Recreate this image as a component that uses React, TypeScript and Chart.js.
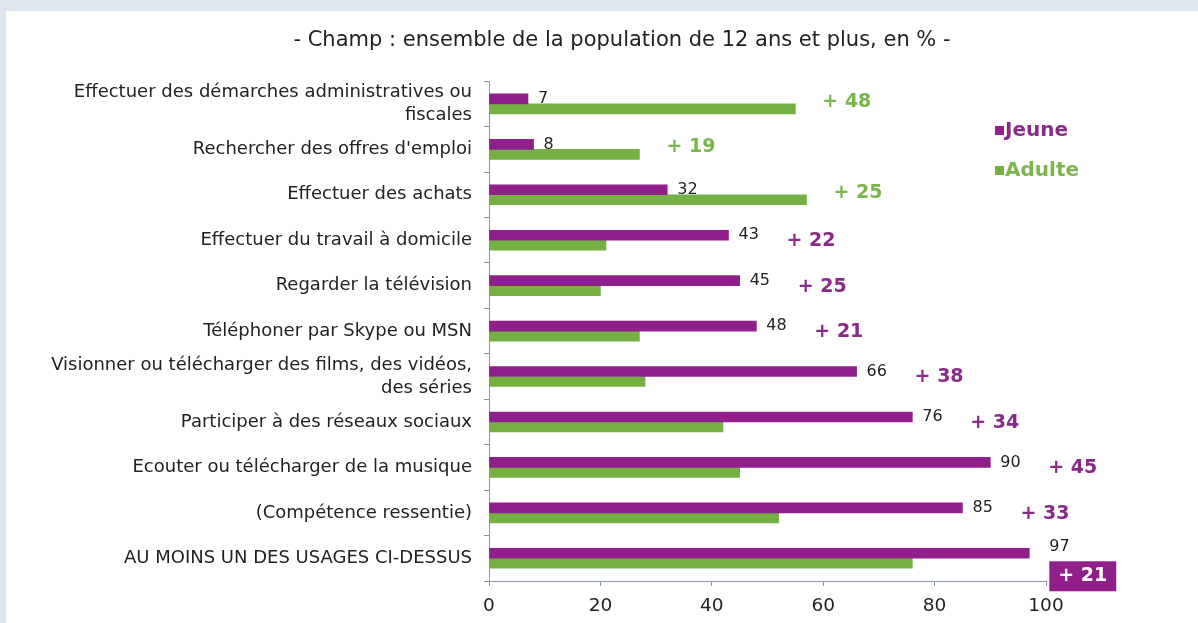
import React, { useEffect, useRef } from "react";
import { Chart, registerables } from "chart.js";

Chart.register(...registerables);

const title = "- Champ : ensemble de la population de 12 ans et plus, en % -";

const categories: (string | string[])[] = [
  ["Effectuer des démarches administratives ou", "fiscales"],
  "Rechercher des offres d'emploi",
  "Effectuer des achats",
  "Effectuer du travail à domicile",
  "Regarder la télévision",
  "Téléphoner par Skype ou MSN",
  ["Visionner ou télécharger des films, des vidéos,", "des séries"],
  "Participer à des réseaux sociaux",
  "Ecouter ou télécharger de la musique",
  "(Compétence ressentie)",
  "AU MOINS UN DES USAGES CI-DESSUS",
];

const jeune = [7, 8, 32, 43, 45, 48, 66, 76, 90, 85, 97];
const adulte = [55, 27, 57, 21, 20, 27, 28, 42, 45, 52, 76];

const xTicks = [0, 20, 40, 60, 80, 100];

const PURPLE = "#901f8c";
const GREEN = "#75b043";
const PURPLE_TXT = "#8a2a88";
const GREEN_TXT = "#7ab54f";
const FONT = "'DejaVu Sans', Verdana, sans-serif";

export default function App() {
  const ref = useRef<HTMLCanvasElement | null>(null);

  useEffect(() => {
    document.body.style.margin = "0";
    const canvas = ref.current;
    if (!canvas) return;

    const annotations = {
      id: "annotations",
      afterLayout(chart: any) {
        const tb = chart.titleBlock;
        if (tb) {
          tb.left = 40;
          tb.right = chart.width;
          tb.width = tb.right - tb.left;
        }
      },
      afterDatasetsDraw(chart: any) {
        const ctx = chart.ctx as CanvasRenderingContext2D;
        const xs = chart.scales.x;
        const metaJ = chart.getDatasetMeta(0);
        const metaA = chart.getDatasetMeta(1);
        ctx.save();
        for (let i = 0; i < jeune.length; i++) {
          const barJ = metaJ.data[i];
          const barA = metaA.data[i];
          const isLast = i === jeune.length - 1;
          ctx.font = `16px ${FONT}`;
          ctx.fillStyle = "#222";
          ctx.textAlign = "left";
          ctx.textBaseline = "middle";
          ctx.fillText(String(jeune[i]), xs.getPixelForValue(jeune[i]) + (isLast ? 20 : 10), barJ.y - (isLast ? 6 : 0));

          const diff = adulte[i] - jeune[i];
          const txt = "+ " + Math.abs(diff);
          const cy = (barJ.y + barA.y) / 2;
          ctx.font = `bold 19px ${FONT}`;
          if (isLast) {
            const x0 = xs.getPixelForValue(jeune[i]) + 20;
            const w = ctx.measureText(txt).width + 18;
            ctx.fillStyle = PURPLE;
            ctx.fillRect(x0, cy + 3, w, 30);
            ctx.fillStyle = "#fff";
            ctx.fillText(txt, x0 + 9, cy + 18);
          } else if (diff > 0) {
            ctx.fillStyle = GREEN_TXT;
            ctx.fillText(txt, xs.getPixelForValue(adulte[i]) + 27, cy - 2);
          } else {
            ctx.fillStyle = PURPLE_TXT;
            ctx.fillText(txt, xs.getPixelForValue(jeune[i]) + 58, cy + 1);
          }
        }
        ctx.restore();
      },
      afterDraw(chart: any) {
        const ctx = chart.ctx as CanvasRenderingContext2D;
        const items = chart.data.datasets.map((d: any) => ({ label: d.label, color: d.backgroundColor, txt: d.label === "Jeune" ? PURPLE_TXT : GREEN_TXT }));
        const lx = chart.chartArea.right - 51;
        const ly = 120;
        ctx.save();
        ctx.font = `bold 20px ${FONT}`;
        ctx.textBaseline = "middle";
        ctx.textAlign = "left";
        items.forEach((it: any, k: number) => {
          const y = ly + k * 40;
          ctx.fillStyle = it.color;
          ctx.fillRect(lx, y - 5, 9, 9);
          ctx.fillStyle = it.txt;
          ctx.fillText(it.label, lx + 10, y);
        });
        ctx.restore();
      },
    };

    const chart = new Chart(canvas, {
      type: "bar",
      data: {
        labels: categories,
        datasets: [
          { label: "Jeune", data: jeune, backgroundColor: PURPLE, barThickness: 10 },
          { label: "Adulte", data: adulte, backgroundColor: GREEN, barThickness: 10 },
        ],
      },
      options: {
        indexAxis: "y",
        animation: false,
        responsive: false,
        maintainAspectRatio: false,
        layout: { padding: { left: 0, right: 152, top: 0, bottom: 0 } },
        plugins: {
          legend: { display: false },
          tooltip: { enabled: false },
          title: {
            display: true,
            text: title,
            color: "#222",
            font: { family: FONT, size: 21, weight: "normal" },
            padding: { top: 17, bottom: 28 },
          },
        },
        scales: {
          x: {
            min: 0,
            max: 100,
            afterBuildTicks: (scale: any) => {
              scale.ticks = xTicks.map((v) => ({ value: v }));
            },
            afterFit: (scale: any) => {
              scale.height = 42;
            },
            grid: { drawOnChartArea: false, drawTicks: true, tickLength: 5, color: "#8797a8" },
            border: { display: true, color: "#8797a8" },
            ticks: { color: "#222", font: { family: FONT, size: 18.5 }, padding: 9 },
          },
          y: {
            afterFit: (scale: any) => {
              scale.width = 483;
            },
            grid: { drawOnChartArea: false, drawTicks: true, tickLength: 5, color: "#8797a8", offset: true },
            border: { display: true, color: "#8797a8" },
            ticks: { color: "#222", font: { family: FONT, size: 18, lineHeight: 1.28 }, padding: 12, autoSkip: false },
          },
        },
      },
      plugins: [annotations],
    } as any);

    return () => chart.destroy();
  }, []);

  return (
    <div style={{ position: "relative", width: 1198, height: 623, background: "#dfe6ee", overflow: "hidden" }}>
      <div style={{ position: "absolute", left: 6, top: 11, width: 1192, height: 612, background: "#fff" }}>
        <canvas ref={ref} width={1192} height={612} style={{ display: "block" }} />
      </div>
    </div>
  );
}
